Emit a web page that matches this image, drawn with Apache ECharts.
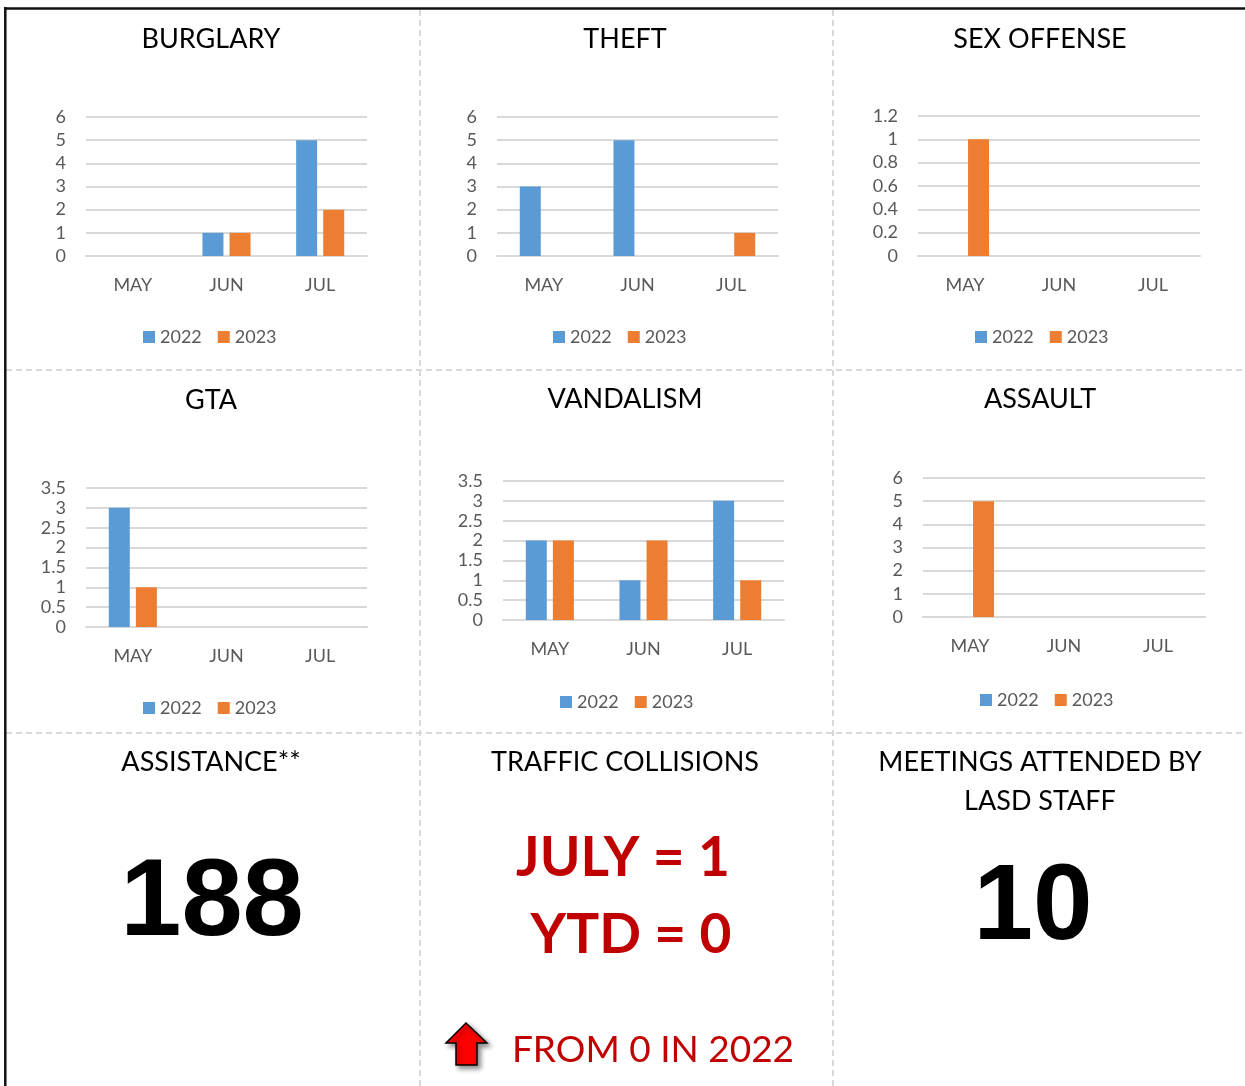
<!DOCTYPE html>
<html>
<head>
<meta charset="utf-8">
<title>Crime stats</title>
<script src="https://cdn.jsdelivr.net/npm/echarts@6/dist/echarts.min.js"></script>
<style>
  html, body { margin: 0; padding: 0; background: #fff; }
  #main { width: 1245px; height: 1086px; }
</style>
</head>
<body>
<div id="main"></div>
<script>
// data
const months = ['MAY', 'JUN', 'JUL'];
const years = ['2022', '2023'];

const burglary2022 = [0, 1, 5];
const burglary2023 = [0, 1, 2];
const theft2022 = [3, 5, 0];
const theft2023 = [0, 0, 1];
const sexOffense2022 = [0, 0, 0];
const sexOffense2023 = [1, 0, 0];
const gta2022 = [3, 0, 0];
const gta2023 = [1, 0, 0];
const vandalism2022 = [2, 1, 3];
const vandalism2023 = [2, 2, 1];
const assault2022 = [0, 0, 0];
const assault2023 = [5, 0, 0];

// y axis ticks per panel
const axisMax = [6, 6, 1.2, 3.5, 3.5, 6];
const axisStep = [1, 1, 0.2, 0.5, 0.5, 1];

const assistanceTotal = '188';
const meetingsTotal = '10';
const trafficLines = ['JULY = 1', 'YTD = 0'];
const trafficNote = 'FROM 0 IN 2022';

const panels = [
	{ title: 'BURGLARY', a: burglary2022, b: burglary2023 },
	{ title: 'THEFT', a: theft2022, b: theft2023 },
	{ title: 'SEX OFFENSE', a: sexOffense2022, b: sexOffense2023 },
	{ title: 'GTA', a: gta2022, b: gta2023 },
	{ title: 'VANDALISM', a: vandalism2022, b: vandalism2023 },
	{ title: 'ASSAULT', a: assault2022, b: assault2023 },
];

// layout of each panel (pixels)
const boxes = [
	{ grid: [86, 117, 281, 139], title: [211, 39], legend: [143, 336] },
	{ grid: [497, 117, 281, 139], title: [625, 39], legend: [553, 336] },
	{ grid: [918, 116, 282, 140], title: [1040, 39], legend: [975, 336] },
	{ grid: [86, 488, 281, 139], title: [211, 400], legend: [143, 707] },
	{ grid: [503, 481, 281, 139], title: [625, 399], legend: [560, 701] },
	{ grid: [923, 478, 282, 139], title: [1040, 399], legend: [980, 699] },
];

const BLUE = '#5b9bd5';
const ORANGE = '#ed7d31';
const GRIDLINE = '#d9d9d9';
const LABEL = '#595959';
const FONT = 'Lato';
const RED = '#c00000';

const grid = [];
const xAxis = [];
const yAxis = [];
const series = [];
const legend = [];
const graphic = [];

panels.forEach((p, i) => {
	const b = boxes[i];
	grid.push({ left: b.grid[0], top: b.grid[1], width: b.grid[2], height: b.grid[3], containLabel: false });
	xAxis.push({
		type: 'category',
		gridIndex: i,
		data: months,
		axisTick: { show: false },
		axisLine: { show: true, lineStyle: { color: GRIDLINE, width: 2 } },
		axisLabel: { color: LABEL, fontFamily: FONT, fontSize: 18, margin: 20 },
	});
	yAxis.push({
		type: 'value',
		gridIndex: i,
		min: 0,
		max: axisMax[i],
		interval: axisStep[i],
		axisLine: { show: false },
		axisTick: { show: false },
		axisLabel: { color: LABEL, fontFamily: FONT, fontSize: 18, margin: 20 },
		splitLine: { lineStyle: { color: GRIDLINE, width: 2 } },
	});
	series.push({
		name: years[0], type: 'bar', xAxisIndex: i, yAxisIndex: i, data: p.a,
		barWidth: 21, barGap: '29%', itemStyle: { color: BLUE },
	});
	series.push({
		name: years[1], type: 'bar', xAxisIndex: i, yAxisIndex: i, data: p.b,
		barWidth: 21, barGap: '29%', itemStyle: { color: ORANGE },
	});
	legend.push({
		left: b.legend[0],
		top: b.legend[1] - 8,
		padding: 0,
		data: years,
		icon: 'rect',
		itemWidth: 12,
		itemHeight: 12,
		itemGap: 16,
		selectedMode: false,
		textStyle: { color: LABEL, fontFamily: FONT, fontSize: 18 },
	});
	graphic.push({
		type: 'text', x: b.title[0], y: b.title[1],
		style: { text: p.title, fill: '#000', fontFamily: FONT, fontSize: 27, align: 'center', verticalAlign: 'middle' },
	});
});

// frame + dashed cell separators
const dash = { stroke: GRIDLINE, lineWidth: 2, lineDash: [6, 4] };
graphic.push(
	{ type: 'line', shape: { x1: 420, y1: 10, x2: 420, y2: 1086 }, style: dash },
	{ type: 'line', shape: { x1: 833, y1: 10, x2: 833, y2: 1086 }, style: dash },
	{ type: 'line', shape: { x1: 6, y1: 370, x2: 1245, y2: 370 }, style: dash },
	{ type: 'line', shape: { x1: 6, y1: 733, x2: 1245, y2: 733 }, style: dash },
	{ type: 'line', shape: { x1: 4, y1: 8.5, x2: 1245, y2: 8.5 }, style: { stroke: '#111', lineWidth: 2.5 } },
	{ type: 'line', shape: { x1: 5.3, y1: 7, x2: 5.3, y2: 1086 }, style: { stroke: '#111', lineWidth: 2.5 } },
);

// bottom row
const titleStyle = { fill: '#000', fontFamily: FONT, fontSize: 27, align: 'center', verticalAlign: 'middle' };
graphic.push(
	{ type: 'text', x: 211, y: 762, style: Object.assign({ text: 'ASSISTANCE**' }, titleStyle) },
	{ type: 'text', x: 625, y: 762, style: Object.assign({ text: 'TRAFFIC COLLISIONS' }, titleStyle) },
	{ type: 'text', x: 1040, y: 762, style: Object.assign({ text: 'MEETINGS ATTENDED BY' }, titleStyle) },
	{ type: 'text', x: 1040, y: 801, style: Object.assign({ text: 'LASD STAFF' }, titleStyle) },
	{
		type: 'text', x: 212, y: 905,
		style: { text: assistanceTotal, fill: '#000', font: 'bold 110px "Liberation Sans"', align: 'center', verticalAlign: 'middle' },
	},
	{
		type: 'text', x: 1033, y: 909,
		style: { text: meetingsTotal, fill: '#000', font: 'bold 107px "Liberation Sans"', align: 'center', verticalAlign: 'middle' },
	},
);

const redText = (text, x, y, font) => ({
	type: 'text', x, y,
	style: {
		text, fill: RED, font, align: 'center', verticalAlign: 'middle',
		stroke: '#fff', lineWidth: 5, strokeFirst: true,
		shadowBlur: 4, shadowColor: 'rgba(0,0,0,0.35)', shadowOffsetX: 1, shadowOffsetY: 2,
	},
});
graphic.push(
	redText(trafficLines[0], 623, 858, 'bold 55px Lato'),
	redText(trafficLines[1], 631, 935, 'bold 55px Lato'),
	redText(trafficNote, 653, 1050, '37px Lato'),
	{
		type: 'polygon',
		shape: { points: [[466, 1023], [487, 1043], [477, 1043], [477, 1065], [456, 1065], [456, 1043], [446, 1043]] },
		style: { fill: '#ff0000', stroke: '#000', lineWidth: 1.5, shadowBlur: 5, shadowColor: 'rgba(0,0,0,0.45)', shadowOffsetX: 3, shadowOffsetY: 3 },
	},
);

const chart = echarts.init(document.getElementById('main'));
chart.setOption({
	animation: false,
	backgroundColor: '#fff',
	grid,
	xAxis,
	yAxis,
	series,
	legend,
	graphic: { elements: graphic },
});
</script>
</body>
</html>
